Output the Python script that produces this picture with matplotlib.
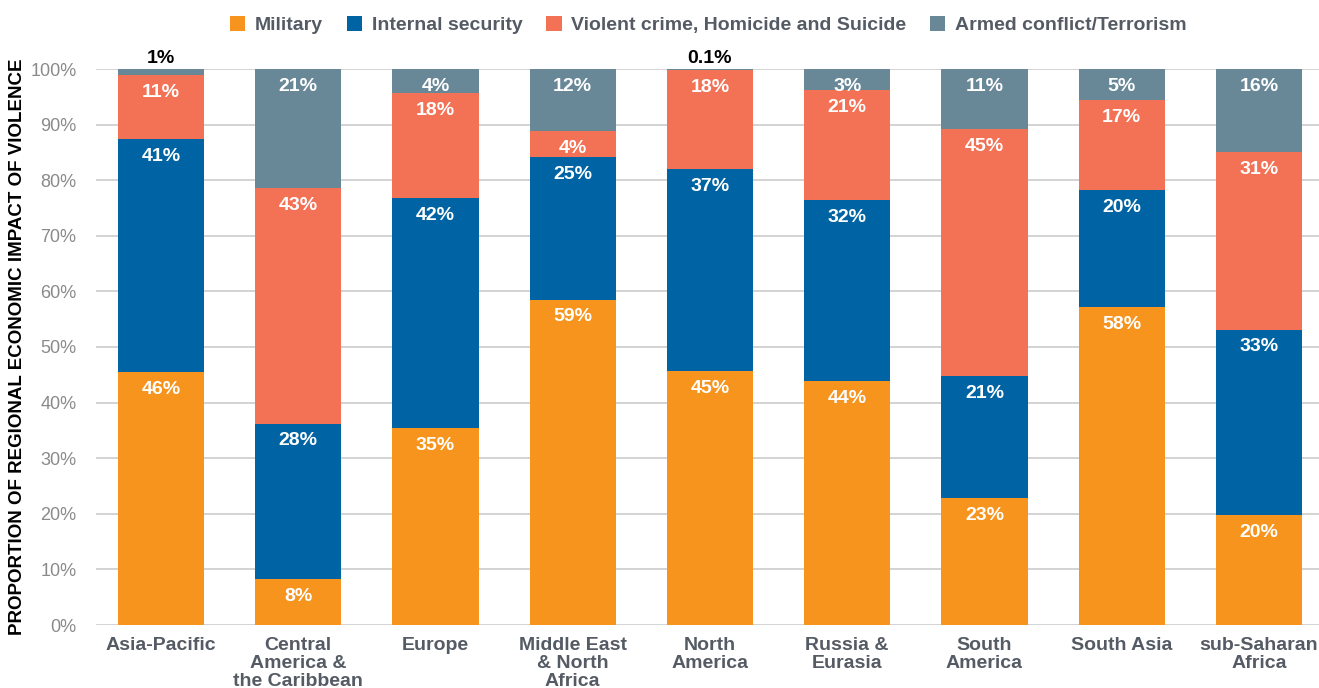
import matplotlib
matplotlib.use('Agg')
import matplotlib.pyplot as plt
from matplotlib import font_manager
import numpy as np

# Data
regions = ['Asia-Pacific', 'Central\nAmerica &\nthe Caribbean', 'Europe', 'Middle East\n& North\nAfrica',
           'North\nAmerica', 'Russia &\nEurasia', 'South\nAmerica', 'South Asia', 'sub-Saharan\nAfrica']
military = [45.5, 8.3, 35.4, 58.5, 45.7, 43.9, 22.8, 57.2, 19.8]
internal = [41.9, 27.9, 41.4, 25.7, 36.3, 32.5, 22.0, 21.0, 33.3]
violent = [11.5, 42.4, 18.9, 4.6, 17.8, 19.8, 44.4, 16.2, 32.0]
armed = [1.1, 21.4, 4.3, 11.2, 0.2, 3.8, 10.8, 5.6, 14.9]

military_lbl = ['46%', '8%', '35%', '59%', '45%', '44%', '23%', '58%', '20%']
internal_lbl = ['41%', '28%', '42%', '25%', '37%', '32%', '21%', '20%', '33%']
violent_lbl = ['11%', '43%', '18%', '4%', '18%', '21%', '45%', '17%', '31%']
armed_lbl = ['1%', '21%', '4%', '12%', '0.1%', '3%', '11%', '5%', '16%']

series_names = ['Military', 'Internal security', 'Violent crime, Homicide and Suicide', 'Armed conflict/Terrorism']
colors = ['#F7941D', '#0063A3', '#F37155', '#688898']

# font
names = {f.name for f in font_manager.fontManager.ttflist}
fam = 'Liberation Sans Narrow' if 'Liberation Sans Narrow' in names else 'Liberation Sans'
plt.rcParams['font.family'] = [fam, 'DejaVu Sans']

fig = plt.figure(figsize=(13.19, 6.88), dpi=100)
ax = fig.add_axes([96/1319, 1-625/688, 1-96/1319, (625-69)/688])

x = np.arange(len(regions))
width = 0.63
series = [military, internal, violent, armed]
labels = [military_lbl, internal_lbl, violent_lbl, armed_lbl]
bottom = np.zeros(len(regions))
for vals, lbls, c, name in zip(series, labels, colors, series_names):
    vals = np.array(vals)
    ax.bar(x, vals, width, bottom=bottom, color=c, label=name, zorder=2)
    for i, (v, l) in enumerate(zip(vals, lbls)):
        top = bottom[i] + v
        if v < 2:
            ax.text(x[i], top + 0.3, l, ha='center', va='bottom', color='black',
                    fontsize=14, fontweight='bold', clip_on=False)
        else:
            ax.text(x[i], top - 3.1, l, ha='center', va='center', color='white',
                    fontsize=14, fontweight='bold')
    bottom += vals

ax.set_xlim((96-161)/137.25, (1319-161)/137.25)
ax.set_ylim(0, 100)
ax.set_yticks(np.arange(0, 101, 10))
ax.set_yticklabels([f'{t}%' for t in range(0, 101, 10)], color='#8a8a8a', fontsize=13)
ax.yaxis.grid(True, color='#cccccc', linewidth=1.2, zorder=0)
ax.set_axisbelow(True)
for s in ax.spines.values():
    s.set_visible(False)
ax.tick_params(axis='both', length=0)
ax.tick_params(axis='y', pad=14)
ax.set_xticks(x)
ax.set_xticklabels(regions, fontsize=14, fontweight='bold', color='#555b64', linespacing=1.05)
ax.tick_params(axis='x', pad=9)

fig.text(18/1319, 1-347/688, 'PROPORTION OF REGIONAL ECONOMIC IMPACT OF VIOLENCE', rotation=90,
         ha='center', va='center', fontsize=13.5, fontweight='bold', color='black')

leg = fig.legend(loc='center', bbox_to_anchor=(0.537, 1-25/688), ncol=4, frameon=False,
                 handlelength=0.8, handleheight=0.8, columnspacing=1.2, handletextpad=0.5,
                 prop={'size': 14, 'weight': 'bold'})
for t in leg.get_texts():
    t.set_color('#555b64')

fig.savefig('out.png', dpi=100)
